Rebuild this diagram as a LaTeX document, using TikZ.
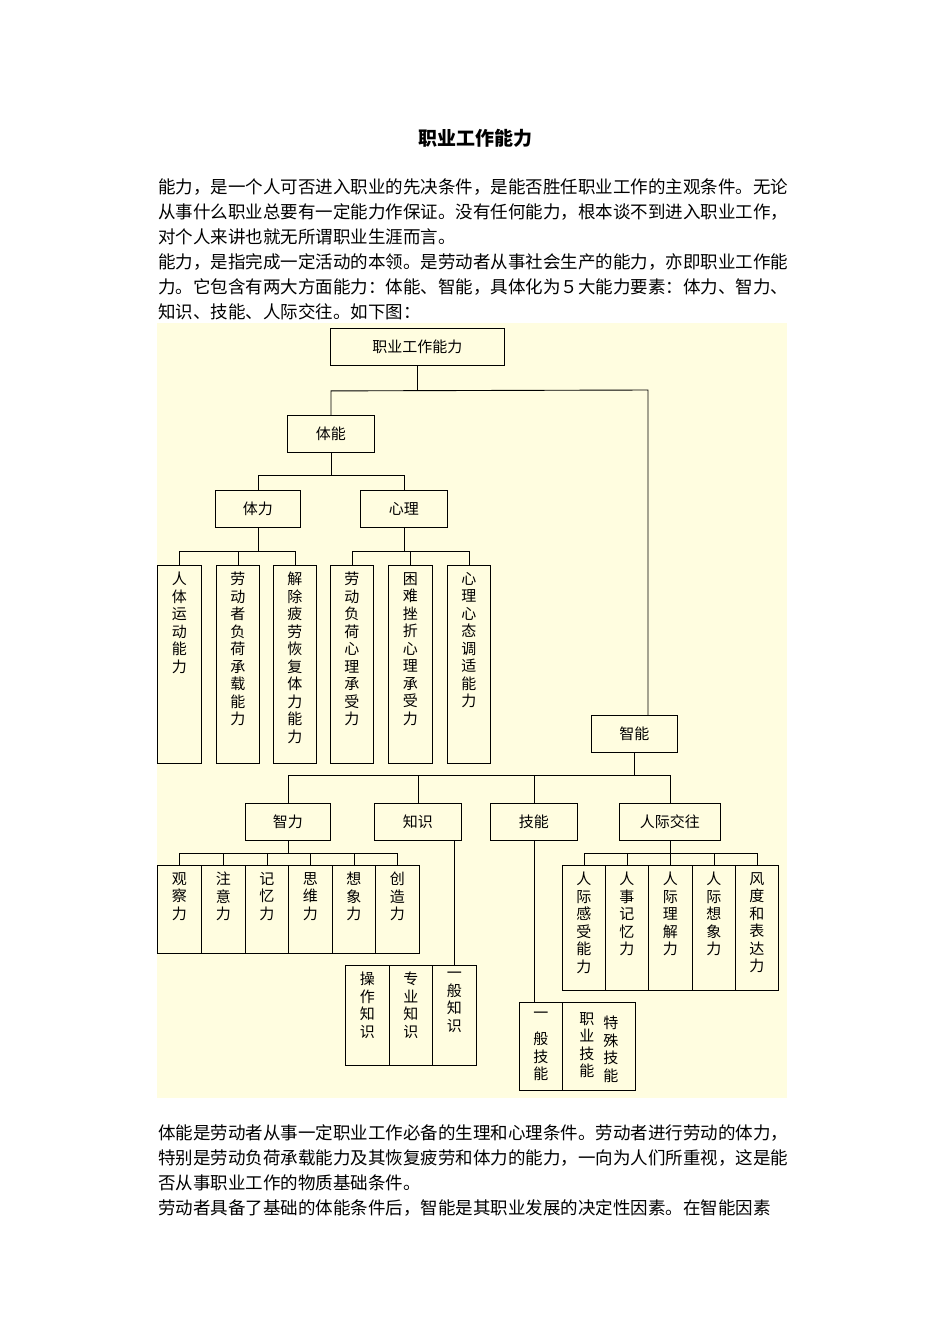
\documentclass[tikz,border=0pt]{standalone}
\usepackage{fontspec}
\newfontfamily\cjk{Noto Sans CJK SC}
\newfontfamily\cjkp[RawFeature=+fwid]{Noto Sans CJK SC}
\def\vtaux#1{\ifx\relax#1\else\hbox{#1}\expandafter\vtaux\fi}
\newcommand\vtx[1]{\vbox{\baselineskip=17.5pt\vtaux#1\relax}}
\begin{document}
\begin{tikzpicture}[x=1pt,y=-1pt,
  bx/.style={draw,line width=0.9pt,anchor=north west,inner sep=0pt},
  lbl/.style={font=\cjk\fontsize{15}{18}\selectfont},
  vt/.style={font=\cjk\fontsize{15}{17.5}\selectfont,anchor=north,inner sep=0pt},
  ln/.style={line width=0.9pt},
  para/.style={font=\cjkp\fontsize{17.5}{20}\selectfont,anchor=west,inner sep=0pt}]
\useasboundingbox (0,0) rectangle (950,1344);
\fill[white] (0,0) rectangle (950,1344);
\fill[yellow!12] (157,323) rectangle (787,1098);
\node[font=\cjk\bfseries\fontsize{19}{22}\selectfont] (title) at (475,138) {职业工作能力};
\node[para] (p1) at (158,187) {能力，是一个人可否进入职业的先决条件，是能否胜任职业工作的主观条件。无论};
\node[para] (p2) at (158,212) {从事什么职业总要有一定能力作保证。没有任何能力，根本谈不到进入职业工作，};
\node[para] (p3) at (158,237) {对个人来讲也就无所谓职业生涯而言。};
\node[para] (p4) at (158,262) {能力，是指完成一定活动的本领。是劳动者从事社会生产的能力，亦即职业工作能};
\node[para] (p5) at (158,287) {力。它包含有两大方面能力：体能、智能，具体化为5大能力要素：体力、智力、};
\node[para] (p6) at (158,312) {知识、技能、人际交往。如下图：};
\node[para] (q1) at (158,1133) {体能是劳动者从事一定职业工作必备的生理和心理条件。劳动者进行劳动的体力，};
\node[para] (q2) at (158,1158) {特别是劳动负荷承载能力及其恢复疲劳和体力的能力，一向为人们所重视，这是能};
\node[para] (q3) at (158,1183) {否从事职业工作的物质基础条件。};
\node[para] (q4) at (158,1208) {劳动者具备了基础的体能条件后，智能是其职业发展的决定性因素。在智能因素};
\newcommand\hb[6]{\node[bx,minimum width=#4,minimum height=37] (#1) at (#2,#3) {}; \node[lbl] at (#1.center) {#6};}
\hb{root}{330}{328}{174}{}{职业工作能力}
\hb{tn}{287}{415}{87}{}{体能}
\hb{tl}{215}{490}{85}{}{体力}
\hb{xl}{360}{490}{87}{}{心理}
\hb{zn}{591}{715}{86}{}{智能}
\hb{zl}{245}{803}{85}{}{智力}
\hb{zs}{374}{803}{87}{}{知识}
\hb{jn}{490}{803}{87}{}{技能}
\hb{rj}{619}{803}{101}{}{人际交往}
\newcommand\vb[6]{\node[bx,minimum width=#4,minimum height=#5] (#1) at (#2,#3) {}; \node[vt] at ([yshift=-7pt]#1.north) {\vtx{#6}};}
\vb{a1}{157}{565}{44}{198}{人体运动能力}
\vb{a2}{216}{565}{43}{198}{劳动者负荷承载能力}
\vb{a3}{273}{565}{43}{198}{解除疲劳恢复体力能力}
\vb{b1}{330}{565}{43}{198}{劳动负荷心理承受力}
\vb{b2}{388}{565}{44}{198}{困难挫折心理承受力}
\vb{b3}{447}{565}{43}{198}{心理心态调适能力}
\vb{c1}{157}{865}{44}{88}{观察力}
\vb{c2}{201}{865}{44}{88}{注意力}
\vb{c3}{245}{865}{43}{88}{记忆力}
\vb{c4}{288}{865}{44}{88}{思维力}
\vb{c5}{332}{865}{43}{88}{想象力}
\vb{c6}{375}{865}{44}{88}{创造力}
\vb{d1}{345}{965}{44}{100}{操作知识}
\vb{d2}{389}{965}{43}{100}{专业知识}
\vb{d3}{432}{965}{44}{100}{一般知识}
\vb{e1}{562}{865}{43}{125}{人际感受能力}
\vb{e2}{605}{865}{43}{125}{人事记忆力}
\vb{e3}{648}{865}{44}{125}{人际理解力}
\vb{e4}{692}{865}{43}{125}{人际想象力}
\vb{e5}{735}{865}{43}{125}{风度和表达力}
\node[bx,minimum width=43,minimum height=88] (f1) at (519,1002) {};
\node[vt] at ([yshift=-10pt]f1.north) {\vtx{一}};
\node[vt,anchor=south] at ([yshift=10pt]f1.south) {\vtx{般技能}};
\node[bx,minimum width=73,minimum height=88] (f2) at (562,1002) {};
\node[vt] at ([xshift=-12pt,yshift=-10pt]f2.north) {\vtx{职业技能}};
\node[vt] at ([xshift=12pt,yshift=-14pt]f2.north) {\vtx{特殊技能}};
\draw[ln] (root.south) -- ++(0,25) coordinate (j0);
\draw[ln] (tn.north) -- (tn.north |- j0) -- (648,390) -- (648,715);
\draw[ln] (tn.south) -- ++(0,23) coordinate (j1);
\draw[ln] (tl.north) -- (tl.north |- j1) -- (xl.north |- j1) -- (xl.north);
\draw[ln] (tl.south) -- ++(0,24) coordinate (j2);
\draw[ln] (a1.north) -- (a1.north |- j2) -- (a3.north |- j2) -- (a3.north);
\draw[ln] (a2.north) -- (a2.north |- j2);
\draw[ln] (xl.south) -- ++(0,24) coordinate (j3);
\draw[ln] (b1.north) -- (b1.north |- j3) -- (b3.north |- j3) -- (b3.north);
\draw[ln] (b2.north) -- (b2.north |- j3);
\draw[ln] (zn.south) -- ++(0,23) coordinate (j4);
\draw[ln] (zl.north) -- (zl.north |- j4) -- (rj.north |- j4) -- (rj.north);
\draw[ln] (zs.north) -- (zs.north |- j4);
\draw[ln] (jn.north) -- (jn.north |- j4);
\draw[ln] (zl.south) -- ++(0,13) coordinate (j5);
\draw[ln] (c1.north) -- (c1.north |- j5) -- (c6.north |- j5) -- (c6.north);
\foreach \n in {c2,c3,c4,c5} \draw[ln] (\n.north) -- (\n.north |- j5);
\draw[ln] (rj.south) -- ++(0,13) coordinate (j6);
\draw[ln] (e1.north) -- (e1.north |- j6) -- (e5.north |- j6) -- (e5.north);
\foreach \n in {e2,e3,e4} \draw[ln] (\n.north) -- (\n.north |- j6);
\draw[ln] (zs.south -| d3.north) -- (d3.north);
\draw[ln] (jn.south -| 534,0) -- (534,1002);
\end{tikzpicture}
\end{document}
